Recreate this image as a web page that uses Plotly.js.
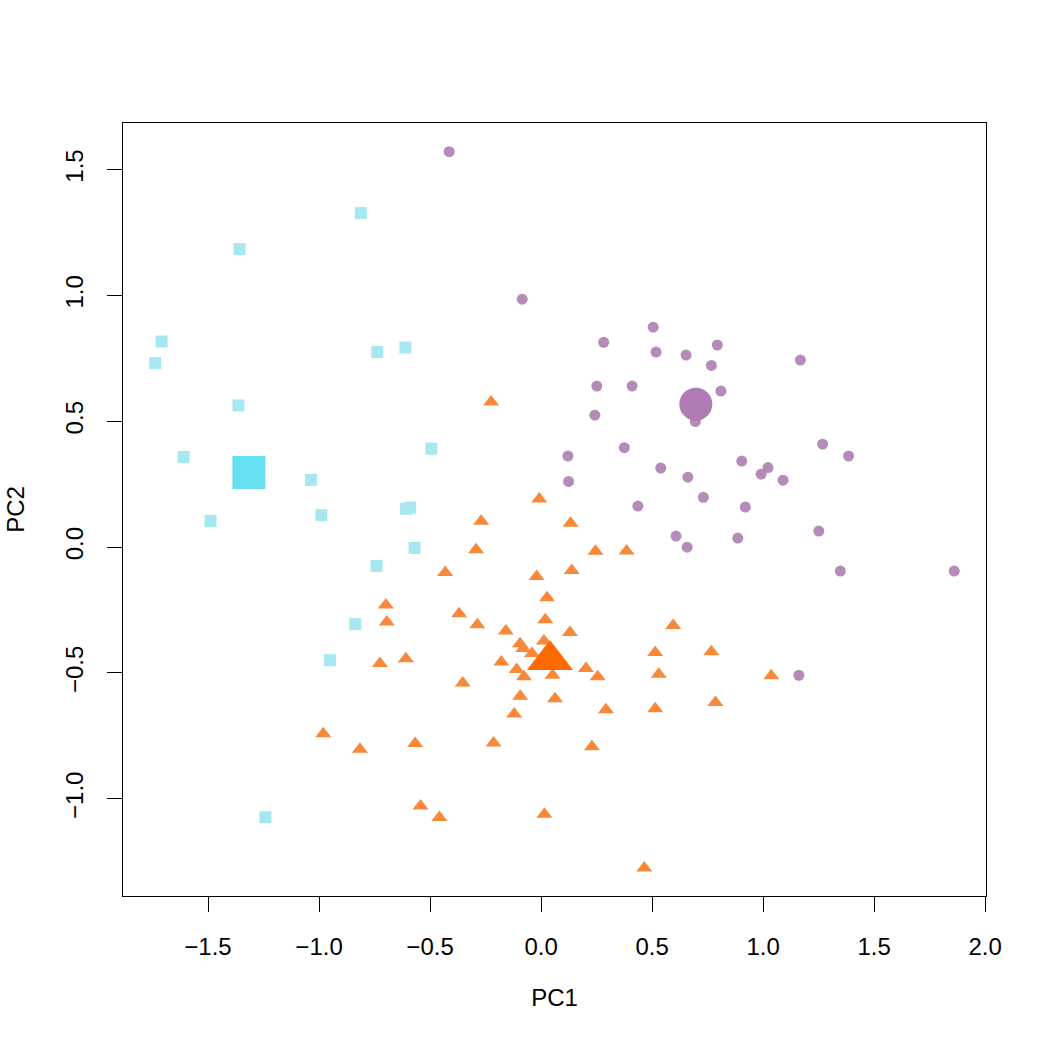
<!DOCTYPE html>
<html>
<head>
<meta charset="utf-8">
<script src="https://cdn.plot.ly/plotly-3.0.1.min.js"></script>
<style>html,body{margin:0;padding:0;background:#fff;}#chart{width:1050px;height:1050px;}</style>
</head>
<body>
<div id="chart"></div>
<script>
// Group 1: cyan squares
const sqX = [-0.812,-1.358,-1.709,-1.738,-0.738,-0.611,-1.363,-0.494,-1.610,-1.036,-1.489,-0.990,-0.608,-0.590,-0.570,-0.741,-0.837,-0.951,-1.242];
const sqY = [1.327,1.184,0.817,0.731,0.775,0.793,0.563,0.391,0.358,0.267,0.104,0.127,0.152,0.157,-0.003,-0.075,-0.306,-0.449,-1.073];
const sqCenter = {x:[-1.316], y:[0.296]};

// Group 2: purple circles
const ciX = [-0.414,-0.085,0.505,0.282,0.518,0.653,0.794,0.767,1.168,0.251,0.410,0.810,0.695,0.242,0.375,1.268,0.121,1.385,0.539,0.904,1.022,0.991,1.090,0.661,0.124,0.731,0.436,0.920,0.608,0.658,0.886,1.251,1.348,1.861,1.161];
const ciY = [1.571,0.985,0.874,0.814,0.775,0.763,0.803,0.722,0.743,0.640,0.640,0.620,0.499,0.524,0.395,0.409,0.362,0.362,0.314,0.342,0.316,0.290,0.266,0.278,0.261,0.198,0.163,0.159,0.044,0.000,0.036,0.064,-0.095,-0.095,-0.509];
const ciCenter = {x:[0.697], y:[0.568]};

// Group 3: orange triangles
const trX = [-0.225,-0.008,-0.270,0.133,-0.293,0.245,0.385,-0.432,-0.020,0.138,0.027,-0.699,-0.369,0.019,-0.695,-0.287,0.595,-0.159,0.130,-0.095,0.013,-0.080,-0.041,-0.609,-0.179,0.514,0.767,-0.726,-0.110,-0.077,0.052,0.202,0.255,0.530,1.037,-0.353,-0.094,0.063,0.292,0.514,0.785,-0.121,-0.981,-0.816,-0.567,-0.214,0.229,-0.543,-0.458,0.015,0.465];
const trY = [0.577,0.191,0.103,0.095,-0.010,-0.016,-0.015,-0.101,-0.117,-0.093,-0.201,-0.230,-0.265,-0.289,-0.297,-0.308,-0.311,-0.333,-0.339,-0.384,-0.373,-0.403,-0.423,-0.443,-0.456,-0.419,-0.416,-0.462,-0.486,-0.515,-0.509,-0.482,-0.515,-0.505,-0.511,-0.540,-0.592,-0.602,-0.646,-0.642,-0.617,-0.663,-0.741,-0.803,-0.780,-0.778,-0.793,-1.028,-1.074,-1.061,-1.275];
const trCenter = {x:[0.040], y:[-0.448]};

const xTicks = [-1.5,-1.0,-0.5,0.0,0.5,1.0,1.5,2.0];
const yTicks = [-1.0,-0.5,0.0,0.5,1.0,1.5];

const font = {family:'"Liberation Sans", Arial, Helvetica, sans-serif', size:24, color:'#000'};

const traces = [
  {type:'scatter', mode:'markers', x:sqX, y:sqY, marker:{symbol:'square', size:12, color:'#A6E7F1', line:{width:0}}},
  {type:'scatter', mode:'markers', x:ciX, y:ciY, marker:{symbol:'circle', size:11, color:'#B58CB8', line:{width:0}}},
  {type:'scatter', mode:'markers', x:trX, y:trY, marker:{symbol:'triangle-up', size:14, color:'#F9893A', line:{width:0}}},
  {type:'scatter', mode:'markers', x:sqCenter.x, y:sqCenter.y, marker:{symbol:'square', size:33, color:'#66E0F0', line:{width:0}}},
  {type:'scatter', mode:'markers', x:ciCenter.x, y:ciCenter.y, marker:{symbol:'circle', size:33, color:'#B07AB4', line:{width:0}}},
  {type:'scatter', mode:'markers', x:trCenter.x, y:trCenter.y, marker:{symbol:'triangle-up', size:40, color:'#FF6A00', line:{width:0}}}
];

const axisCommon = {
  showgrid:false, zeroline:false, showline:true, mirror:true, linecolor:'#000', linewidth:1,
  ticks:'outside', ticklen:15, tickwidth:1, tickcolor:'#000', tickfont:font, tickformat:'.1f'
};

const layout = {
  width:1050, height:1050,
  margin:{l:123, r:64, t:123, b:154},
  paper_bgcolor:'#fff', plot_bgcolor:'#fff',
  showlegend:false,
  font:font,
  xaxis:Object.assign({}, axisCommon, {range:[-1.883,2.004], tickvals:xTicks, ticklabelstandoff:14,
    title:{text:'PC1', font:font, standoff:30}}),
  yaxis:Object.assign({}, axisCommon, {range:[-1.386,1.685], tickvals:yTicks, tickangle:-90, ticklabelstandoff:14,
    title:{text:'PC2', font:font, standoff:30}})
};

Plotly.newPlot('chart', traces, layout, {staticPlot:true, displayModeBar:false});
</script>
</body>
</html>
